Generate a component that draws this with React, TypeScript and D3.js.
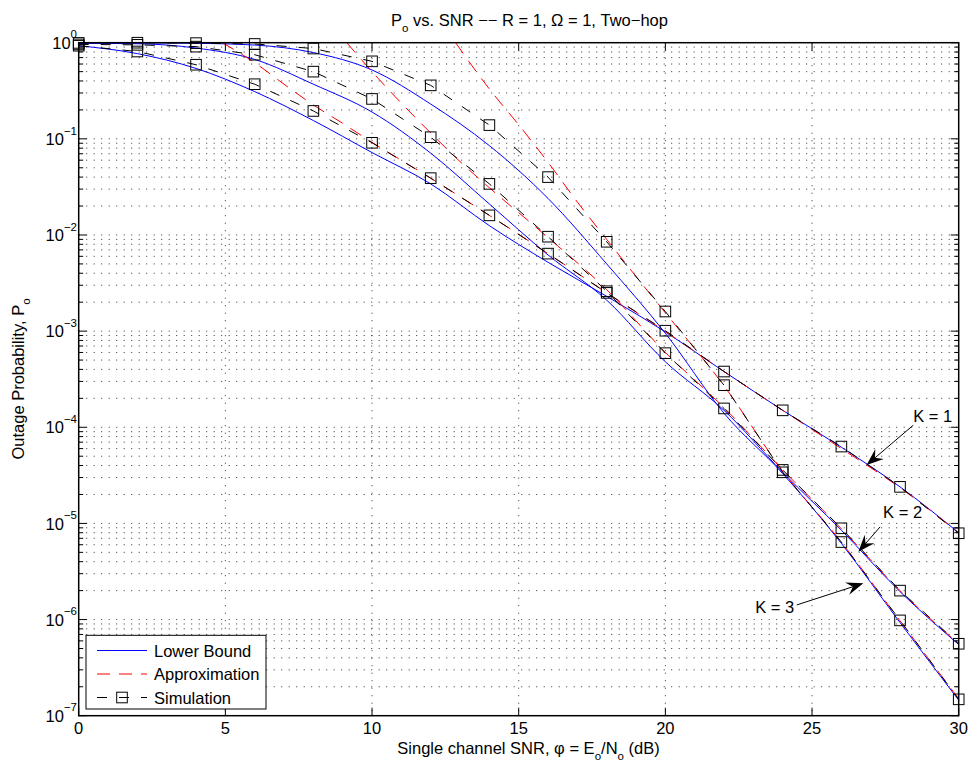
import { useEffect, useRef } from 'react';
import * as d3 from 'd3';

// SNR (dB) where the simulation markers sit
const snrSim = [0, 2, 4, 6, 8, 10, 12, 14, 16, 18, 20, 22, 24, 26, 28, 30];
const simK1 = [0.93, 0.81, 0.59, 0.37, 0.195, 0.091, 0.039, 0.016, 0.0064, 0.0025, 0.00101, 3.8e-4, 1.5e-4, 6.3e-5, 2.4e-5, 7.9e-6];
const simK2 = [0.96, 0.95, 0.91, 0.75, 0.5, 0.26, 0.104, 0.034, 0.0096, 0.0026, 5.9e-4, 1.57e-4, 3.6e-5, 8.9e-6, 2.0e-6, 5.6e-7];
const simK3 = [0.995, 1.0, 0.99, 0.97, 0.87, 0.64, 0.36, 0.139, 0.04, 0.0085, 0.0016, 2.74e-4, 3.4e-5, 6.4e-6, 9.8e-7, 1.48e-7];

// lower bound curves
const snrBound = [0, 2, 4, 6, 8, 10, 12, 14, 16, 18, 20, 22, 24, 26, 28, 30];
const boundK1 = [0.93, 0.77, 0.54, 0.31, 0.155, 0.072, 0.034, 0.0125, 0.0052, 0.0023, 0.00098, 3.8e-4, 1.5e-4, 6.2e-5, 2.4e-5, 8.0e-6];
const boundK2 = [0.985, 0.975, 0.88, 0.67, 0.37, 0.19, 0.071, 0.021, 0.0062, 0.0021, 4.8e-4, 1.5e-4, 3.4e-5, 8.5e-6, 1.95e-6, 5.5e-7];
const boundK3 = [0.997, 0.995, 0.985, 0.945, 0.79, 0.52, 0.23, 0.085, 0.024, 0.005, 9.5e-4, 1.4e-4, 3.3e-5, 6.2e-6, 9.3e-7, 1.45e-7];

// approximation curves (start where they enter the plot at Po = 1)
const snrApproxK1 = [4.9, 6, 7, 8, 9, 10, 12, 14, 16, 18, 20, 22, 24, 26, 28, 30];
const approxK1 = [1.0, 0.62, 0.37, 0.225, 0.145, 0.092, 0.039, 0.016, 0.0064, 0.0025, 0.00099, 3.8e-4, 1.5e-4, 6.0e-5, 2.35e-5, 8.0e-6];
const snrApproxK2 = [9.14, 10, 11, 12, 13, 14, 16, 18, 20, 22, 24, 26, 28, 30];
const approxK2 = [1.0, 0.5, 0.235, 0.115, 0.058, 0.031, 0.0094, 0.0027, 6.0e-4, 1.6e-4, 3.6e-5, 8.8e-6, 2.0e-6, 5.6e-7];
const snrApproxK3 = [12.85, 13, 14, 15, 16, 17, 18, 19, 20, 22, 24, 26, 28, 30];
const approxK3 = [1.0, 0.86, 0.33, 0.14, 0.057, 0.022, 0.009, 0.0037, 0.00155, 2.7e-4, 3.5e-5, 6.4e-6, 9.7e-7, 1.5e-7];

const xTicks = [0, 5, 10, 15, 20, 25, 30];
const yExponents = [0, -1, -2, -3, -4, -5, -6, -7];
const legendLabels = ['Lower Bound', 'Approximation', 'Simulation'];
const curveLabels = ['K = 1', 'K = 2', 'K = 3'];

const FONT = '"Liberation Sans", Arial, Helvetica, sans-serif';

function OutageChart() {
  const ref = useRef<SVGSVGElement>(null);

  useEffect(() => {
    const svg = d3.select(ref.current);
    svg.selectAll('*').remove();

    const W = 969, H = 761;
    const left = 78.7, right = 958.7, top = 42.7, bottom = 715.7;

    const x = d3.scaleLinear().domain([0, 30]).range([left, right]);
    const y = d3.scaleLog().domain([1e-7, 1]).range([bottom, top]);

    svg.append('rect').attr('width', W).attr('height', H).attr('fill', '#fff');

    // grid
    const grid = svg.append('g').attr('stroke', '#333').attr('stroke-width', 1).attr('stroke-dasharray', '1,6.5');
    const gridVals: number[] = [];
    for (let e = -7; e < 0; e++) for (let m = 1; m <= 9; m++) if (!(e === -7 && m === 1)) gridVals.push(m * Math.pow(10, e));
    grid.selectAll('.hg').data(gridVals).enter().append('line')
      .attr('x1', left).attr('x2', right)
      .attr('y1', (d) => y(d)).attr('y2', (d) => y(d));
    grid.selectAll('.vg').data(xTicks.slice(1, -1)).enter().append('line')
      .attr('x1', (d) => x(d)).attr('x2', (d) => x(d))
      .attr('y1', top).attr('y2', bottom);

    const curved = d3.line<[number, number]>().x((d) => x(d[0])).y((d) => y(d[1])).curve(d3.curveMonotoneX);
    const straight = d3.line<[number, number]>().x((d) => x(d[0])).y((d) => y(d[1]));
    const zip = (a: number[], b: number[]) => a.map((v, i) => [v, b[i]] as [number, number]);

    // lower bounds
    [boundK1, boundK2, boundK3].forEach((b) => {
      svg.append('path').attr('d', curved(zip(snrBound, b))).attr('fill', 'none')
        .attr('stroke', '#0000ff').attr('stroke-width', 1);
    });

    // approximations
    [[snrApproxK1, approxK1], [snrApproxK2, approxK2], [snrApproxK3, approxK3]].forEach(([s, v]) => {
      svg.append('path').attr('d', curved(zip(s, v))).attr('fill', 'none')
        .attr('stroke', '#ff0000').attr('stroke-width', 1).attr('stroke-dasharray', '13,9');
    });

    // simulations
    [simK1, simK2, simK3].forEach((s) => {
      svg.append('path').attr('d', straight(zip(snrSim, s))).attr('fill', 'none')
        .attr('stroke', '#000').attr('stroke-width', 1).attr('stroke-dasharray', '10,12');
      svg.append('g').selectAll('rect').data(zip(snrSim, s)).enter().append('rect')
        .attr('x', (d) => x(d[0]) - 5.3).attr('y', (d) => y(d[1]) - 5.3)
        .attr('width', 10.6).attr('height', 10.6)
        .attr('fill', 'none').attr('stroke', '#000').attr('stroke-width', 1);
    });

    // axes box and ticks
    svg.append('rect').attr('x', left).attr('y', top).attr('width', right - left).attr('height', bottom - top)
      .attr('fill', 'none').attr('stroke', '#000').attr('stroke-width', 1.5);
    const ticks = svg.append('g').attr('stroke', '#000').attr('stroke-width', 1);
    xTicks.forEach((t) => {
      ticks.append('line').attr('x1', x(t)).attr('x2', x(t)).attr('y1', bottom).attr('y2', bottom - 8);
      ticks.append('line').attr('x1', x(t)).attr('x2', x(t)).attr('y1', top).attr('y2', top + 8);
    });
    for (let e = -7; e <= 0; e++) {
      for (let m = 1; m <= 9; m++) {
        if (e === 0 && m > 1) break;
        const yy = y(m * Math.pow(10, e));
        const len = m === 1 ? 8 : 4.5;
        ticks.append('line').attr('x1', left).attr('x2', left + len).attr('y1', yy).attr('y2', yy);
        ticks.append('line').attr('x1', right).attr('x2', right - len).attr('y1', yy).attr('y2', yy);
      }
    }

    const txt = svg.append('g').attr('font-family', FONT).attr('font-size', 16.5).attr('fill', '#000');

    // x tick labels
    txt.selectAll('.xt').data(xTicks).enter().append('text')
      .attr('x', (d) => x(d)).attr('y', 734).attr('text-anchor', 'middle').text((d) => d);

    // y tick labels
    yExponents.forEach((e) => {
      const t = txt.append('text').attr('x', 77).attr('y', y(Math.pow(10, e)) + 6.2).attr('text-anchor', 'end');
      t.append('tspan').text('10');
      t.append('tspan').attr('font-size', 11.5).attr('dy', -10.5).text(e === 0 ? '0' : '\u2212' + Math.abs(e));
    });

    // title
    const title = txt.append('text').attr('x', 529.5).attr('y', 26).attr('text-anchor', 'middle');
    title.append('tspan').text('P');
    title.append('tspan').attr('font-size', 11.5).attr('dy', 5.5).text('o');
    title.append('tspan').attr('dy', -5.5).text(' vs. SNR \u2212\u2212 R = 1, \u03a9 = 1, Two\u2212hop');

    // x label
    const xl = txt.append('text').attr('x', 528.5).attr('y', 754).attr('text-anchor', 'middle');
    xl.append('tspan').text('Single channel SNR, \u03c6 = E');
    xl.append('tspan').attr('font-size', 11.5).attr('dy', 5.5).text('o');
    xl.append('tspan').attr('dy', -5.5).text('/N');
    xl.append('tspan').attr('font-size', 11.5).attr('dy', 5.5).text('o');
    xl.append('tspan').attr('dy', -5.5).text(' (dB)');

    // y label
    const yl = txt.append('text').attr('transform', `translate(24,379) rotate(-90)`).attr('text-anchor', 'middle');
    yl.append('tspan').text('Outage Probability, P');
    yl.append('tspan').attr('font-size', 11.5).attr('dy', 5.5).text('o');

    // K annotations: [label, tail, tip] in data units
    const notes: { tail: [number, number]; tip: [number, number]; dx: number; dy: number; anchor: string }[] = [
      { tail: [28.45, 1.05e-4], tip: [26.86, 4.05e-5], dx: 0, dy: -3.5, anchor: 'start' },
      { tail: [27.32, 9.2e-6], tip: [26.58, 5.07e-6], dx: 3, dy: -8.5, anchor: 'start' },
      { tail: [24.48, 1.42e-6], tip: [26.75, 2.38e-6], dx: -2.5, dy: 8.5, anchor: 'end' },
    ];
    notes.forEach((n, i) => {
      const x1 = x(n.tail[0]), y1 = y(n.tail[1]);
      const x2 = x(n.tip[0]), y2 = y(n.tip[1]);
      const ang = Math.atan2(y2 - y1, x2 - x1);
      const c = Math.cos(ang), s = Math.sin(ang);
      const L = 17, Wd = 13, notch = 11;
      const pt = (u: number, v: number) => [x2 + u * c - v * s, y2 + u * s + v * c];
      svg.append('line').attr('x1', x1).attr('y1', y1)
        .attr('x2', x2 - notch * c).attr('y2', y2 - notch * s)
        .attr('stroke', '#000').attr('stroke-width', 1);
      svg.append('polygon')
        .attr('points', [pt(0, 0), pt(-L, Wd / 2), pt(-notch, 0), pt(-L, -Wd / 2)].map((p) => p.join(',')).join(' '))
        .attr('fill', '#000');
      txt.append('text').attr('x', x1 + n.dx).attr('y', y1 + n.dy).attr('text-anchor', n.anchor).text(curveLabels[i]);
    });

    // legend
    const lg = svg.append('g');
    lg.append('rect').attr('x', 86).attr('y', 635.3).attr('width', 180).attr('height', 73.7)
      .attr('fill', '#fff').attr('stroke', '#000').attr('stroke-width', 1);
    const rows = [650.5, 674, 697.5];
    const styles = [
      { stroke: '#0000ff', dash: null },
      { stroke: '#ff0000', dash: '13,9' },
      { stroke: '#000', dash: '10,12' },
    ];
    legendLabels.forEach((label, i) => {
      const ln = lg.append('line').attr('x1', 97).attr('x2', 147).attr('y1', rows[i]).attr('y2', rows[i])
        .attr('stroke', styles[i].stroke).attr('stroke-width', 1);
      if (styles[i].dash) ln.attr('stroke-dasharray', styles[i].dash);
      if (i === 2) {
        lg.append('rect').attr('x', 122 - 5.3).attr('y', rows[i] - 5.3).attr('width', 10.6).attr('height', 10.6)
          .attr('fill', 'none').attr('stroke', '#000').attr('stroke-width', 1);
      }
      lg.append('text').attr('x', 154).attr('y', rows[i] + 6).attr('font-family', FONT).attr('font-size', 16.5)
        .text(label);
    });
  }, []);

  return <svg ref={ref} width={969} height={761} style={{ position: 'absolute', left: 0, top: 0 }}></svg>;
}

export default function App() {
  return <OutageChart />;
}
